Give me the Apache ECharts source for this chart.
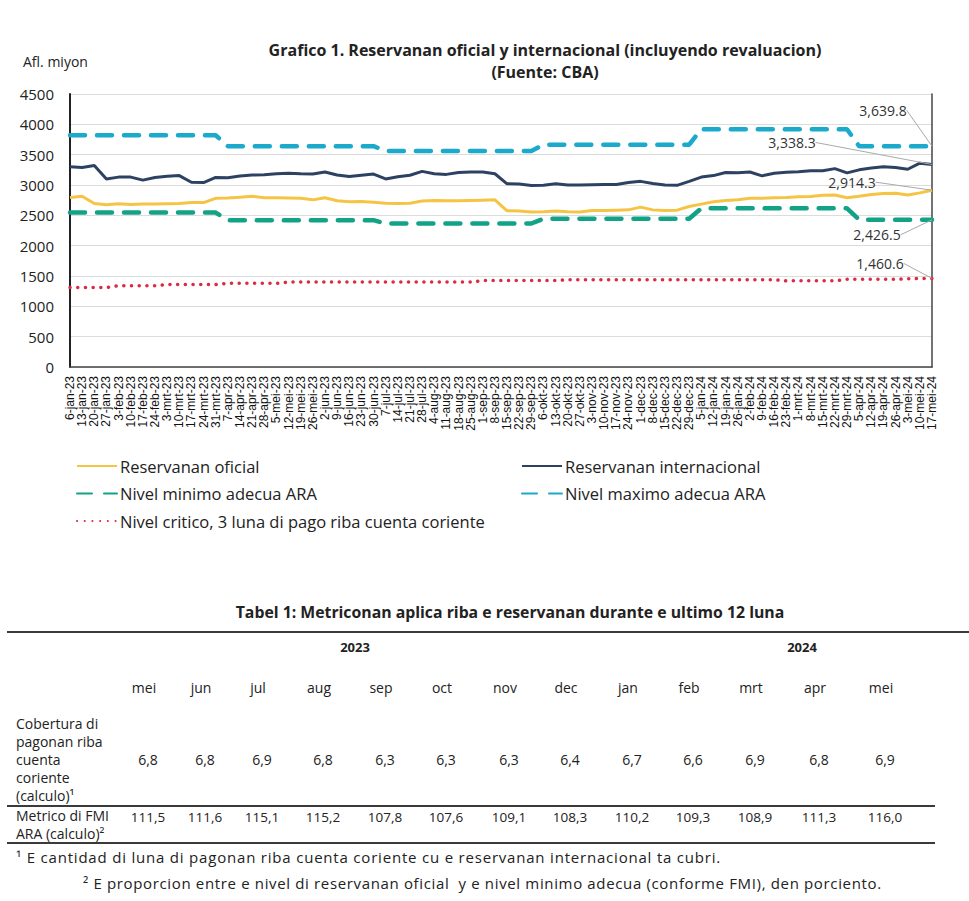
<!DOCTYPE html>
<html><head><meta charset="utf-8">
<script src="https://cdn.jsdelivr.net/npm/echarts@6/dist/echarts.min.js"></script>
<style>
html,body{margin:0;padding:0;background:#fff;}
#wrap{position:relative;width:969px;height:901px;font-family:"Open Sans",Lato,sans-serif;color:#222;overflow:hidden;}
#chart{position:absolute;left:0;top:0;width:969px;height:901px;}
#tbl{position:absolute;left:0;top:0;width:969px;height:901px;pointer-events:none;}
.c{position:absolute;white-space:nowrap;transform:translate(-50%,-50%);font-size:14px;line-height:16px;}
.l{position:absolute;white-space:nowrap;transform:translateY(-50%);font-size:14px;line-height:16px;}
.rule{position:absolute;height:2px;background:#3a3a3a;}
.b{font-weight:bold;}
</style></head>
<body><div id="wrap"><div id="chart"></div><div id="tbl"></div></div>
<script>
const dates = ['6-jan-23','13-jan-23','20-jan-23','27-jan-23','3-feb-23','10-feb-23','17-feb-23','24-feb-23','3-mrt-23','10-mrt-23','17-mrt-23','24-mrt-23','31-mrt-23','7-apr-23','14-apr-23','21-apr-23','28-apr-23','5-mei-23','12-mei-23','19-mei-23','26-mei-23','2-jun-23','9-jun-23','16-jun-23','23-jun-23','30-jun-23','7-jul-23','14-jul-23','21-jul-23','28-jul-23','4-aug-23','11-aug-23','18-aug-23','25-aug-23','1-sep-23','8-sep-23','15-sep-23','22-sep-23','29-sep-23','6-okt-23','13-okt-23','20-okt-23','27-okt-23','3-nov-23','10-nov-23','17-nov-23','24-nov-23','1-dec-23','8-dec-23','15-dec-23','22-dec-23','29-dec-23','5-jan-24','12-jan-24','19-jan-24','26-jan-24','2-feb-24','9-feb-24','16-feb-24','23-feb-24','1-mrt-24','8-mrt-24','15-mrt-24','22-mrt-24','29-mrt-24','5-apr-24','12-apr-24','19-apr-24','26-apr-24','3-mei-24','10-mei-24','17-mei-24'];

const reservananOficial = [2795,2815,2695,2675,2690,2680,2685,2685,2690,2695,2710,2710,2780,2785,2800,2815,2790,2790,2785,2780,2755,2790,2740,2725,
2730,2715,2700,2695,2700,2735,2745,2740,2740,2745,2750,2755,2575,2570,2555,2560,2570,2560,2555,2580,2580,2585,2590,2635,
2590,2580,2585,2645,2685,2725,2745,2755,2780,2780,2790,2795,2805,2810,2830,2835,2790,2815,2845,2860,2865,2835,2870,2914.3];

const reservananInternacional = [3300,3290,3320,3100,3130,3130,3080,3125,3145,3155,3045,3040,3125,3120,3150,3165,3170,3185,3195,3185,3180,3215,3165,3140,
3160,3180,3100,3135,3160,3225,3185,3175,3205,3215,3215,3185,3020,3015,2990,2995,3020,3000,3000,3005,3010,3010,3040,3060,
3025,3000,2995,3060,3130,3155,3205,3200,3215,3150,3195,3210,3220,3235,3235,3270,3200,3250,3280,3300,3290,3260,3360,3338.3];

const nivelMinimo = [2545,2545,2545,2545,2545,2545,2545,2545,2545,2545,2545,2545,2545,
2420,2420,2420,2420,2420,2420,2420,2420,2420,2420,2420,2420,2420,
2365,2365,2365,2365,2365,2365,2365,2365,2365,2365,2365,2365,2365,
2445,2445,2445,2445,2445,2445,2445,2445,2445,2445,2445,2445,2445,
2615,2615,2615,2615,2615,2615,2615,2615,2615,2615,2615,2615,2615,
2426.5,2426.5,2426.5,2426.5,2426.5,2426.5,2426.5];

const nivelMaximo = [3820,3820,3820,3820,3820,3820,3820,3820,3820,3820,3820,3820,3820,
3640,3640,3640,3640,3640,3640,3640,3640,3640,3640,3640,3640,3640,
3560,3560,3560,3560,3560,3560,3560,3560,3560,3560,3560,3560,3560,
3665,3665,3665,3665,3665,3665,3665,3665,3665,3665,3665,3665,3665,
3920,3920,3920,3920,3920,3920,3920,3920,3920,3920,3920,3920,3920,
3639.8,3639.8,3639.8,3639.8,3639.8,3639.8,3639.8];

const nivelCritico = [1310,1310,1310,1310,1340,1340,1340,1340,1360,1360,1360,1360,1360,
1380,1380,1380,1380,1380,1400,1400,1400,1400,1400,1400,1400,1400,1400,1400,1400,1400,1400,1400,1400,1400,
1425,1425,1425,1425,1425,1425,1425,1440,1440,1440,1440,1440,1440,1440,1440,1440,1440,1440,1440,1440,1440,1440,1440,1440,1440,
1420,1420,1420,1420,1420,1445,1445,1445,1445,1445,1455,1458,1460.6];

const yTicks = [0,500,1000,1500,2000,2500,3000,3500,4000,4500];

const tableYears = ['2023','2024'];
const tableMonths = ['mei','jun','jul','aug','sep','oct','nov','dec','jan','feb','mrt','apr','mei'];
const cobertura = ['6,8','6,8','6,9','6,8','6,3','6,3','6,3','6,4','6,7','6,6','6,9','6,8','6,9'];
const metricoARA = ['111,5','111,6','115,1','115,2','107,8','107,6','109,1','108,3','110,2','109,3','108,9','111,3','116,0'];

const FONT = '"Open Sans", Lato, sans-serif';
const fmt = v => Number(v).toLocaleString('en-US',{minimumFractionDigits:1,maximumFractionDigits:1});

function withEndLabel(values){
  return values.map((v,i)=> i===values.length-1 ? {value:v, symbol:'circle', symbolSize:0.1, label:{show:true}} : v);
}
function lineSeries(name, values, color, width, type, dx, dy, cap){
  return {
    name, type:'line', data: withEndLabel(values), symbol:'none', showSymbol:true, showAllSymbol:true,
    color, lineStyle:{color, width, type, cap: cap||'butt'},
    label:{show:false, position:'inside', formatter:p=>fmt(p.value), color:'#333', fontSize:14, fontFamily:FONT},
    labelLayout:{dx, dy},
    labelLine:{show:true, lineStyle:{color:'#aaa', width:1}},
    emphasis:{disabled:true}, animation:false
  };
}

const legendText = {fontSize:16.5, fontFamily:FONT, color:'#222', lineHeight:18, padding:[0,0,0,-2]};
const chart = echarts.init(document.getElementById('chart'), null, {renderer:'svg'});
chart.setOption({
  animation:false,
  title:{text:'Grafico 1. Reservanan oficial y internacional (incluyendo revaluacion)\n(Fuente: CBA)', left:540, top:34, textAlign:'center',
    textStyle:{fontSize:16, fontWeight:'bold', fontFamily:FONT, color:'#222', lineHeight:22}},
  graphic:[{type:'text', left:23, top:54, style:{text:'Afl. miyon', fontSize:14, fontFamily:FONT, fill:'#222'}}],
  grid:{left:70, right:37, top:94, bottom:534, containLabel:false},
  legend:[
    {left:71, top:452, orient:'vertical', itemWidth:40, itemHeight:14, itemGap:9.5,
     data:['Reservanan oficial','Nivel minimo adecua ARA','Nivel critico, 3 luna di pago riba cuenta coriente'],
     itemStyle:{opacity:0}, textStyle:legendText},
    {left:516, top:452, orient:'vertical', itemWidth:40, itemHeight:14, itemGap:9.5,
     data:['Reservanan internacional','Nivel maximo adecua ARA'],
     itemStyle:{opacity:0}, textStyle:legendText}
  ],
  xAxis:[
    {type:'category', data:dates, boundaryGap:false, position:'bottom',
     axisLine:{show:false}, axisTick:{show:false},
     axisLabel:{interval:0, rotate:90, fontSize:12, fontFamily:'"Liberation Sans", Arial, sans-serif', color:'#111', margin:9}},
    {type:'category', data:dates, boundaryGap:false, position:'top',
     axisLine:{show:true, lineStyle:{color:'#444', width:1.5}}, axisTick:{show:false}, axisLabel:{show:false}}
  ],
  yAxis:[
    {type:'value', min:yTicks[0], max:yTicks[yTicks.length-1], interval:500,
     axisLine:{show:true, lineStyle:{color:'#222', width:2}}, axisTick:{show:false},
     axisLabel:{fontSize:15, fontFamily:FONT, color:'#222', margin:16, formatter:v=>String(v)},
     splitLine:{lineStyle:{color:'#dcdcdc', width:1}}},
    {type:'value', min:yTicks[0], max:yTicks[yTicks.length-1], interval:500, position:'right',
     axisLine:{show:true, lineStyle:{color:'#444', width:1.5}}, axisTick:{show:false}, axisLabel:{show:false}, splitLine:{show:false}}
  ],
  series:[
    lineSeries('Reservanan oficial', reservananOficial, '#F5C445', 3, 'solid', -80, -8),
    lineSeries('Reservanan internacional', reservananInternacional, '#2D4262', 3, 'solid', -140, -22),
    lineSeries('Nivel minimo adecua ARA', nivelMinimo, '#12A286', 4.5, [15,12], -55, 15, 'round'),
    lineSeries('Nivel maximo adecua ARA', nivelMaximo, '#1BA9CC', 4.5, [15,12], -49, -36, 'round'),
    lineSeries('Nivel critico, 3 luna di pago riba cuenta coriente', nivelCritico, '#DC2A45', 3.5, [0.1,7.6], -52, -15, 'round')
  ]
});

// Table (HTML text)
const colX = [144,201,258,319,381,442,505,566,628,689,751,815,881];
const tbl = document.getElementById('tbl');
let h = '';
h += `<div class="c b" style="left:510px;top:612px;font-size:15.8px;">Tabel 1: Metriconan aplica riba e reservanan durante e ultimo 12 luna</div>`;
h += `<div class="rule" style="left:7px;top:631px;width:962px;"></div>`;
h += `<div class="c b" style="left:355px;top:647px;font-size:13px;">${tableYears[0]}</div>`;
h += `<div class="c b" style="left:802px;top:647px;font-size:13px;">${tableYears[1]}</div>`;
tableMonths.forEach((m,i)=>{ h += `<div class="c" style="left:${colX[i]}px;top:688px;">${m}</div>`; });
const row1Label = ['Cobertura di','pagonan riba','cuenta','coriente','(calculo)¹'];
row1Label.forEach((t,i)=>{ h += `<div class="l" style="left:16px;top:${724+i*18}px;">${t}</div>`; });
cobertura.forEach((v,i)=>{ h += `<div class="c" style="left:${colX[i]+4}px;top:760px;">${v}</div>`; });
h += `<div class="rule" style="left:7px;top:805px;width:928px;"></div>`;
h += `<div class="l" style="left:16px;top:816px;">Metrico di FMI</div>`;
h += `<div class="l" style="left:16px;top:834px;">ARA (calculo)²</div>`;
metricoARA.forEach((v,i)=>{ h += `<div class="c" style="left:${colX[i]+4}px;top:817px;font-size:13.5px;">${v}</div>`; });
h += `<div class="rule" style="left:7px;top:842px;width:928px;"></div>`;
h += `<div class="l" style="left:16px;top:857px;font-size:15px;letter-spacing:0.8px;">¹ E cantidad di luna di pagonan riba cuenta coriente cu e reservanan internacional ta cubri.</div>`;
h += `<div class="l" style="left:83px;top:883px;font-size:15px;letter-spacing:0.65px;">² E proporcion entre e nivel di reservanan oficial&nbsp; y e nivel minimo adecua (conforme FMI), den porciento.</div>`;
tbl.innerHTML = h;
</script></body></html>
